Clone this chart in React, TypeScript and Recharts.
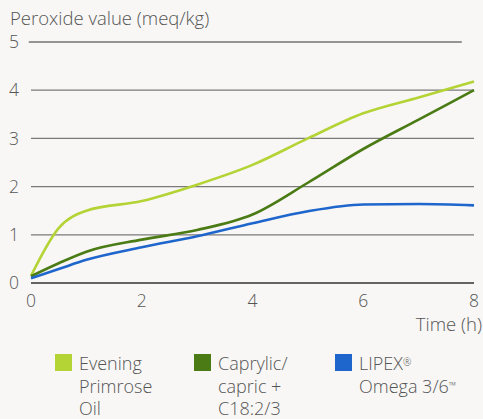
import { CartesianGrid, Label, Legend, Line, LineChart, ReferenceLine, XAxis, YAxis } from 'recharts';

const HOURS = [0, 0.5, 1, 2, 3, 4, 5, 6, 7, 8];
const PRIMROSE = [0.15, 1.14, 1.5, 1.7, 2.04, 2.45, 3.0, 3.52, 3.85, 4.18];
const CAPRYLIC = [0.14, 0.41, 0.65, 0.9, 1.1, 1.42, 2.08, 2.78, 3.39, 4.0];
const LIPEX = [0.1, 0.29, 0.48, 0.74, 0.97, 1.24, 1.49, 1.63, 1.64, 1.61];

const X_TICKS = [0, 2, 4, 6, 8];
const Y_TICKS = [0, 1, 2, 3, 4, 5];
const GRID_VALUES = [1, 2, 3, 4];

const SERIES = [
  { key: 'primrose', color: '#b4d335', lines: ['Evening', 'Primrose', 'Oil'] },
  { key: 'caprylic', color: '#4a7b14', lines: ['Caprylic/', 'capric +', 'C18:2/3'] },
  { key: 'lipex', color: '#1f66cc', lines: ['LIPEX®', 'Omega 3/6™'] },
];
const LEGEND_WIDTHS = [139, 141, 140];

const FONT = '"Open Sans", Lato, sans-serif';
const TEXT = '#555555';

const data = HOURS.map((t, i) => ({ t, primrose: PRIMROSE[i], caprylic: CAPRYLIC[i], lipex: LIPEX[i] }));

// wrap ® and ™ as small superscripts
function withMarks(s: string) {
  return s.split(/([®™])/).map((part, i) =>
    part === '®' || part === '™' ? (
      <span key={i} style={{ fontSize: 10, verticalAlign: 'top', position: 'relative', top: -1 }}>
        {part}
      </span>
    ) : (
      <span key={i}>{part}</span>
    ),
  );
}

function renderLegend() {
  return (
    <div style={{ display: 'flex', paddingLeft: 55, fontFamily: FONT, fontWeight: 300, fontSize: 18, color: TEXT }}>
      {SERIES.map((s, i) => (
        <div key={s.key} style={{ display: 'flex', width: LEGEND_WIDTHS[i] }}>
          <span style={{ width: 17, height: 17, background: s.color, marginTop: 2, flex: 'none' }} />
          <div style={{ marginLeft: 7, lineHeight: '22.5px', textAlign: 'left' }}>
            {s.lines.map((l) => (
              <div key={l}>{withMarks(l)}</div>
            ))}
          </div>
        </div>
      ))}
    </div>
  );
}

export default function App() {
  return (
    <div style={{ position: 'absolute', left: 0, top: 0, width: 483, height: 419, background: '#f8f7f5' }}>
      <LineChart width={483} height={419} data={data} margin={{ top: 42, right: 9, left: 0, bottom: 106 }}>
        <CartesianGrid vertical={false} horizontalValues={GRID_VALUES} stroke="#7a7a7a" strokeWidth={1.3} />
        <ReferenceLine
          segment={[
            { x: -0.04, y: 5 },
            { x: 7.78, y: 5 },
          ]}
          stroke="#333"
          strokeWidth={1}
          ifOverflow="visible"
        />
        <XAxis
          dataKey="t"
          type="number"
          domain={[0, 8]}
          ticks={X_TICKS}
          height={30}
          tickSize={0}
          tickMargin={12}
          axisLine={{ stroke: '#333', strokeWidth: 1.3 }}
          tick={{ fill: TEXT, fontSize: 17.5, fontFamily: FONT, fontWeight: 300 }}
        >
          <Label
            content={({ viewBox }: any) => (
              <text
                x={viewBox.x + viewBox.width + 8}
                y={viewBox.y + 48}
                textAnchor="end"
                fill={TEXT}
                fontSize={18.5}
                fontFamily={FONT}
                fontWeight={300}
              >
                Time (h)
              </text>
            )}
          />
        </XAxis>
        <YAxis
          domain={[0, 5]}
          ticks={Y_TICKS}
          width={31}
          tickSize={0}
          tickMargin={12}
          axisLine={false}
          tick={{ fill: TEXT, fontSize: 17.5, fontFamily: FONT, fontWeight: 300 }}
        >
          <Label
            content={({ viewBox }: any) => (
              <text
                x={viewBox.x + 10}
                y={viewBox.y - 17}
                fill={TEXT}
                fontSize={18.5}
                fontFamily={FONT}
                fontWeight={300}
              >
                Peroxide value (meq/kg)
              </text>
            )}
          />
        </YAxis>
        <Legend
          layout="horizontal"
          verticalAlign="middle"
          align="center"
          content={renderLegend}
          wrapperStyle={{ top: 352, left: 0, width: 483 }}
        />
        {SERIES.map((s) => (
          <Line
            key={s.key}
            type="monotone"
            dataKey={s.key}
            stroke={s.color}
            strokeWidth={2.6}
            dot={false}
            isAnimationActive={false}
          />
        ))}
      </LineChart>
    </div>
  );
}
